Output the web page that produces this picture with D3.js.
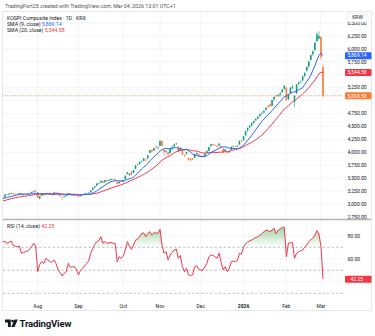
<!DOCTYPE html>
<html>
<head>
<meta charset="utf-8">
<script src="https://cdn.jsdelivr.net/npm/d3@7"></script>
<style>
  html, body { margin: 0; padding: 0; background: #fff; }
  svg text { font-family: Roboto, "Open Sans", sans-serif; }
</style>
</head>
<body>
<div id="chart"></div>
<script>
// KOSPI daily bars, 2025-07-09 .. 2026-03-04
const holidays = ['2025-08-15', '2025-10-03', '2025-10-06', '2025-10-07', '2025-10-08', '2025-10-09',
    '2025-12-25', '2025-12-31', '2026-01-01', '2026-02-16', '2026-02-17', '2026-02-18', '2026-03-02']

// closes of the sessions before the first visible bar (SMA warm-up)
const historyCloses = [2955, 2980, 2995, 3000, 3010, 3020, 3035, 3040, 3060, 3075, 3085,
    3070, 3090, 3115, 3120, 3110, 3095, 3100, 3111]

const opens = [
    3115, 3140, 3185, 3180, 3205, 3210, 3195, 3195, 3195, 3210, 3172, 3195, 3190, 3200, 3210, 3235, 3255,
    3230, 3105, 3160, 3190, 3185, 3200, 3215, 3195, 3200, 3230, 3215, 3175, 3140, 3135, 3150, 3180, 3205, 3180, 3190, 3195,
    3170, 3150, 3180, 3190, 3200, 3215, 3225, 3275, 3320, 3355, 3405, 3415, 3445, 3420, 3465, 3450, 3470, 3480, 3475, 3430, 3400, 3440,
    3430, 3480, 3580, 3560, 3620, 3600, 3680, 3760, 3770, 3820, 3835, 3860, 3880, 3990, 4040, 4030, 4095, 4100,
    4125, 4220, 4050, 4010, 4005, 3985, 4100, 4115, 4165, 4110, 4040, 4040, 3940, 3970, 3890, 3880, 3880, 3890, 3965, 3965,
    3910, 3930, 3930, 3990, 4030, 4120, 4160, 4140, 4130, 4130, 4120, 4070, 4020, 4010, 4000, 4050, 4110, 4120, 4115, 4150, 4230,
    4230, 4330, 4420, 4480, 4520, 4570, 4620, 4650, 4700, 4750, 4770, 4820, 4900, 4930, 4900, 5020, 5100, 5090, 5120, 5160, 5230,
    5250, 5030, 5140, 5250, 4980, 5140, 5320, 5360, 5390, 5480, 5580, 5660, 5790, 5900, 5980, 6150, 6200,
    6230, 5650
]
const highs = [
    3140, 3190, 3200, 3210, 3220, 3215, 3205, 3210, 3215, 3215, 3190, 3200, 3205, 3215, 3235, 3255, 3288,
    3240, 3150, 3200, 3200, 3205, 3215, 3220, 3205, 3230, 3240, 3220, 3180, 3150, 3160, 3175, 3215, 3210, 3195, 3205, 3200,
    3175, 3175, 3195, 3205, 3215, 3225, 3265, 3315, 3345, 3400, 3410, 3450, 3450, 3465, 3470, 3475, 3490, 3490, 3485, 3440, 3440, 3445,
    3460, 3550, 3620, 3600, 3640, 3660, 3750, 3780, 3815, 3840, 3885, 3870, 3945, 4045, 4060, 4085, 4145, 4110,
    4225, 4230, 4060, 4050, 4020, 4080, 4120, 4160, 4180, 4120, 4095, 4045, 3970, 4010, 3900, 3890, 3890, 3965, 3995, 3975,
    3940, 3935, 3985, 4035, 4105, 4160, 4170, 4160, 4140, 4175, 4130, 4075, 4065, 4020, 4030, 4110, 4125, 4130, 4135, 4225, 4240,
    4320, 4420, 4480, 4530, 4580, 4620, 4660, 4700, 4750, 4790, 4810, 4870, 4920, 4950, 5020, 5080, 5110, 5130, 5160, 5230, 5300,
    5260, 5130, 5260, 5300, 5100, 5320, 5370, 5390, 5480, 5550, 5660, 5770, 5890, 5970, 6130, 6320, 6340,
    6250, 5700
]
const lows = [
    3105, 3135, 3165, 3170, 3195, 3180, 3180, 3180, 3185, 3165, 3160, 3180, 3180, 3195, 3200, 3225, 3240,
    3115, 3090, 3155, 3165, 3175, 3190, 3180, 3180, 3195, 3215, 3170, 3145, 3075, 3125, 3145, 3175, 3170, 3170, 3185, 3180,
    3135, 3145, 3165, 3185, 3195, 3205, 3220, 3270, 3305, 3350, 3380, 3405, 3405, 3410, 3435, 3445, 3460, 3465, 3455, 3380, 3395, 3415,
    3420, 3475, 3570, 3545, 3550, 3595, 3675, 3740, 3760, 3800, 3825, 3820, 3875, 3985, 3990, 4025, 4070, 4050,
    4120, 4110, 3930, 3990, 3950, 3980, 4030, 4100, 4140, 4000, 4030, 3950, 3905, 3955, 3840, 3830, 3845, 3885, 3955, 3920,
    3900, 3900, 3925, 3985, 4020, 4110, 4130, 4120, 4090, 4125, 4080, 3990, 4010, 3970, 3985, 4045, 4090, 4100, 4100, 4145, 4200,
    4225, 4320, 4400, 4470, 4500, 4555, 4600, 4640, 4690, 4730, 4755, 4810, 4860, 4870, 4895, 5000, 5060, 5070, 5080, 5150, 5200,
    4990, 5010, 5130, 5220, 4880, 5130, 5300, 5330, 5380, 5460, 5560, 5640, 5770, 5860, 5960, 6130, 6180,
    5780, 5060
]
const closes = [
    3134, 3183, 3176, 3202, 3215, 3187, 3192, 3188, 3211, 3170, 3184, 3190, 3196, 3210, 3231, 3254, 3245,
    3119, 3148, 3198, 3170, 3198, 3210, 3190, 3190, 3224, 3226, 3177, 3152, 3130, 3143, 3169, 3210, 3179, 3187, 3196, 3186,
    3143, 3172, 3184, 3201, 3205, 3220, 3260, 3315, 3344, 3396, 3407, 3450, 3413, 3461, 3445, 3469, 3486, 3472, 3471, 3386, 3431, 3425,
    3456, 3549, 3611, 3585, 3562, 3657, 3748, 3749, 3815, 3824, 3884, 3846, 3942, 4043, 4010, 4081, 4087, 4108,
    4222, 4122, 4004, 4026, 3954, 4073, 4106, 4150, 4171, 4012, 4089, 3954, 3930, 4005, 3853, 3846, 3858, 3961, 3987, 3927,
    3920, 3914, 3977, 4028, 4100, 4155, 4144, 4135, 4110, 4167, 4091, 3999, 4056, 3995, 4021, 4106, 4117, 4109, 4130, 4221, 4214,
    4310, 4410, 4470, 4510, 4565, 4605, 4645, 4685, 4740, 4760, 4800, 4860, 4880, 4885, 5010, 5070, 5085, 5105, 5145, 5210, 5290,
    5010, 5120, 5250, 5275, 5090, 5310, 5350, 5370, 5470, 5534.34, 5650, 5760, 5880, 5950, 6120, 6280, 6248.68,
    5840, 5093.58
]
const rsiValues = [
    75, 74.9, 73.5, 74.3, 75.5, 71.5, 71.1, 70.5, 71.1, 64.8, 65.5, 66.2, 66.8, 68.2, 70.5, 73.5, 71.1,
    48.8, 55, 57.5, 56, 60.4, 59, 57.5, 57, 59, 56, 50.3, 48, 45, 47.5, 48.8, 56, 52.6, 53, 53.1, 51,
    45.9, 50, 51.7, 54, 56, 58, 64.8, 69, 72.5, 74.9, 76, 79.2, 73.5, 74.9, 73.5, 73.8, 74.2, 73.5, 73.5, 57.5, 61.8, 60.4,
    62.5, 67.7, 74.9, 71, 68.2, 72, 76.3, 77, 79.2, 82.2, 82.5, 79.2, 82, 83.6, 80.7, 82.7, 82.5, 82.2,
    85.6, 72, 64.8, 66.2, 59, 63.3, 65.5, 67.7, 68.5, 60.4, 63, 53.1, 48.8, 51.7, 45.9, 45.5, 45.9, 53.1, 54, 50.9,
    50.3, 50, 53, 56, 61.8, 63.3, 63, 61.8, 60.5, 64.8, 57, 50.3, 53.1, 48.8, 51.7, 57.5, 58, 57.5, 58.5, 64.8, 64,
    70.5, 73, 74.9, 75.5, 76.3, 77.5, 78.5, 79.2, 80.5, 82.2, 83.5, 85, 84.5, 83.6, 85, 86.5, 81.6, 85, 86, 87.4, 87.4,
    61.8, 73.5, 74, 74, 60.4, 64.8, 66.2, 67, 67.7, 70, 72, 74.9, 76.5, 77.8, 80.7, 84.4, 81.6,
    70.5, 42.25
]

const priceTicks = [2750, 3000, 3250, 3500, 3750, 4000, 4250, 4500, 4750, 5000, 5250, 5500, 5750, 6000, 6250, 6500]
const rsiGrid = [40, 60, 80]
const rsiBands = [70, 50, 30]

const upColor = '#089981'
const downColor = '#ff7a33'
const sma9Color = '#2962ff'
const sma20Color = '#f23645'
const rsiColor = '#f23645'

////////////////////////////////////
/////////////// wrangle ////////////
////////////////////////////////////
const dayFmt = d3.utcFormat('%Y-%m-%d')
const sessions = d3.utcDays(new Date(Date.UTC(2025, 6, 9)), new Date(Date.UTC(2026, 2, 5)))
    .filter(d => d.getUTCDay() % 6 !== 0 && !holidays.includes(dayFmt(d)))

const bars = sessions.map((date, i) => ({
    date, i, open: opens[i], high: highs[i], low: lows[i], close: closes[i], rsi: rsiValues[i]
}))

const allCloses = historyCloses.concat(closes)
const offset = historyCloses.length
const sma = n => closes.map((c, i) => d3.mean(allCloses.slice(i + offset - n + 1, i + offset + 1)))
const sma9 = sma(9)
const sma20 = sma(20)

const monthStarts = bars.filter((d, i) => i > 0 && d.date.getUTCMonth() !== bars[i - 1].date.getUTCMonth())

const fmt = d3.format(',.2f')
const last = bars[bars.length - 1]

////////////////////////////////////
//////////////// layout ////////////
////////////////////////////////////
const width = 375, height = 336
const plot = { left: 3, right: 343 }
const pricePane = { top: 12, bottom: 219 }
const rsiPane = { top: 220, bottom: 300 }
const tagH = 7

const svg = d3.select('#chart').append('svg')
    .attr('width', width)
    .attr('height', height)

svg.append('rect').attr('width', width).attr('height', height).attr('fill', '#fff')

const xScale = d3.scaleLinear()
    .domain([-1.5, 166.8])
    .range([0, plot.right])

const yScale = d3.scaleLinear()
    .domain([2750, 6250])
    .range([216.9, 36])

const rScale = d3.scaleLinear()
    .domain([30, 70])
    .range([293.3, 247.3])

const defs = svg.append('defs')
defs.append('clipPath').attr('id', 'clip-price')
    .append('rect').attr('x', plot.left).attr('y', pricePane.top)
    .attr('width', plot.right - plot.left).attr('height', pricePane.bottom - pricePane.top)
defs.append('clipPath').attr('id', 'clip-rsi')
    .append('rect').attr('x', plot.left).attr('y', rsiPane.top)
    .attr('width', plot.right - plot.left).attr('height', rsiPane.bottom - rsiPane.top)
defs.append('clipPath').attr('id', 'clip-ob')
    .append('rect').attr('x', plot.left).attr('y', rsiPane.top)
    .attr('width', plot.right - plot.left).attr('height', rScale(70) - rsiPane.top)

const grad = defs.append('linearGradient').attr('id', 'ob-grad')
    .attr('gradientUnits', 'userSpaceOnUse')
    .attr('x1', 0).attr('x2', 0).attr('y1', rScale(100)).attr('y2', rScale(70))
grad.append('stop').attr('offset', 0).attr('stop-color', '#4caf50').attr('stop-opacity', 0.9)
grad.append('stop').attr('offset', 1).attr('stop-color', '#4caf50').attr('stop-opacity', 0)

// header + frame
svg.append('text')
    .attr('x', 5).attr('y', 7.6)
    .attr('font-size', 5.3).attr('fill', '#50535e')
    .text('TradingPort25 created with TradingView.com, Mar 04, 2026 13:01 UTC+1')

svg.append('rect')
    .attr('x', 2.5).attr('y', 11.5).attr('width', 369).attr('height', 299)
    .attr('fill', 'none').attr('stroke', '#e0e3eb').attr('stroke-width', 0.8)

////////////////////////////////////
//////////////// grid //////////////
////////////////////////////////////
const grid = svg.append('g').attr('stroke', '#f0f3fa').attr('stroke-width', 0.8)

grid.selectAll('.hp')
    .data(priceTicks.filter(v => yScale(v) > pricePane.top && yScale(v) < pricePane.bottom))
    .join('line')
    .attr('x1', plot.left).attr('x2', plot.right)
    .attr('y1', d => yScale(d)).attr('y2', d => yScale(d))

grid.selectAll('.hr')
    .data(rsiGrid)
    .join('line')
    .attr('x1', plot.left).attr('x2', plot.right)
    .attr('y1', d => rScale(d)).attr('y2', d => rScale(d))

grid.selectAll('.v1')
    .data(monthStarts)
    .join('line')
    .attr('x1', d => xScale(d.i)).attr('x2', d => xScale(d.i))
    .attr('y1', pricePane.top).attr('y2', pricePane.bottom)

grid.selectAll('.v2')
    .data(monthStarts)
    .join('line')
    .attr('x1', d => xScale(d.i)).attr('x2', d => xScale(d.i))
    .attr('y1', rsiPane.top).attr('y2', rsiPane.bottom)

////////////////////////////////////
//////////////// price /////////////
////////////////////////////////////
const price = svg.append('g').attr('clip-path', 'url(#clip-price)')

// last price line
price.append('line')
    .attr('x1', plot.left).attr('x2', plot.right)
    .attr('y1', yScale(last.close)).attr('y2', yScale(last.close))
    .attr('stroke', downColor).attr('stroke-width', 0.7)
    .attr('stroke-dasharray', '1,1')

const candle = price.selectAll('.candle')
    .data(bars)
    .join('g')
    .attr('class', 'candle')
    .attr('fill', d => d.close >= d.open ? upColor : downColor)
    .attr('stroke', d => d.close >= d.open ? upColor : downColor)

candle.append('line')
    .attr('x1', d => xScale(d.i)).attr('x2', d => xScale(d.i))
    .attr('y1', d => yScale(d.high)).attr('y2', d => yScale(d.low))
    .attr('stroke-width', 0.6)

candle.append('rect')
    .attr('stroke', 'none')
    .attr('x', d => xScale(d.i) - 0.75)
    .attr('width', 1.5)
    .attr('y', d => yScale(Math.max(d.open, d.close)))
    .attr('height', d => Math.max(0.6, Math.abs(yScale(d.open) - yScale(d.close))))

const smaLine = d3.line().x((d, i) => xScale(i)).y(d => yScale(d))

price.append('path').datum(sma20)
    .attr('d', smaLine).attr('fill', 'none')
    .attr('stroke', sma20Color).attr('stroke-width', 1)

price.append('path').datum(sma9)
    .attr('d', smaLine).attr('fill', 'none')
    .attr('stroke', sma9Color).attr('stroke-width', 1)

// value tags on the scale
const tags = [
    { value: sma9[sma9.length - 1], color: sma9Color },
    { value: sma20[sma20.length - 1], color: sma20Color },
    { value: last.close, color: downColor }
]

// scale labels hidden behind a tag are skipped
const clear = (y, tagYs) => tagYs.every(t => Math.abs(t - y) >= 6)

const priceAxis = svg.append('g')
    .attr('font-size', 5).attr('fill', '#131722')

priceAxis.selectAll('text')
    .data(priceTicks.filter(v => clear(yScale(v), tags.map(t => yScale(t.value)))))
    .join('text')
    .attr('x', 347.5)
    .attr('y', d => yScale(d) + 1.8)
    .text(d => fmt(d))

const tag = svg.selectAll('.tag')
    .data(tags)
    .join('g')
    .attr('class', 'tag')
    .attr('transform', d => `translate(345,${yScale(d.value)})`)

tag.append('rect')
    .attr('x', 0).attr('y', -tagH / 2).attr('width', 26.5).attr('height', tagH).attr('rx', 1)
    .attr('fill', d => d.color)

tag.append('text')
    .attr('x', 2.5).attr('y', 1.8)
    .attr('font-size', 5).attr('fill', '#fff')
    .text(d => fmt(d.value))

// currency box
const krw = svg.append('g').attr('transform', 'translate(347,13)')
krw.append('rect')
    .attr('width', 21).attr('height', 9).attr('rx', 2)
    .attr('fill', '#fff').attr('stroke', '#e0e3eb').attr('stroke-width', 0.7)
krw.append('text')
    .attr('x', 10.5).attr('y', 6.2).attr('text-anchor', 'middle')
    .attr('font-size', 5).attr('fill', '#131722')
    .text('KRW')

// legend
const legend = svg.append('g').attr('font-size', 5.2).attr('fill', '#131722')

legend.append('text').attr('x', 7).attr('y', 19.5)
    .text('KOSPI Composite Index · 1D · KRX')

const l9 = legend.append('text').attr('x', 7).attr('y', 25.7)
l9.append('tspan').text('SMA (9, close) ')
l9.append('tspan').attr('fill', sma9Color).text(fmt(sma9[sma9.length - 1]))

const l20 = legend.append('text').attr('x', 7).attr('y', 31.9)
l20.append('tspan').text('SMA (20, close) ')
l20.append('tspan').attr('fill', sma20Color).text(fmt(sma20[sma20.length - 1]))

// pane separator
svg.append('line')
    .attr('x1', plot.left).attr('x2', 371)
    .attr('y1', 219.5).attr('y2', 219.5)
    .attr('stroke', '#b2b5be').attr('stroke-width', 1.4)

////////////////////////////////////
///////////////// rsi //////////////
////////////////////////////////////
const rsi = svg.append('g').attr('clip-path', 'url(#clip-rsi)')

rsi.selectAll('.band')
    .data(rsiBands)
    .join('line')
    .attr('x1', plot.left).attr('x2', plot.right)
    .attr('y1', d => rScale(d)).attr('y2', d => rScale(d))
    .attr('stroke', '#9598a1').attr('stroke-width', 0.6)
    .attr('stroke-dasharray', '2.5,2')

rsi.append('g').attr('clip-path', 'url(#clip-ob)')
    .append('path').datum(bars)
    .attr('d', d3.area().x(d => xScale(d.i)).y0(rScale(70)).y1(d => rScale(d.rsi)))
    .attr('fill', 'url(#ob-grad)')

rsi.append('path').datum(bars)
    .attr('d', d3.line().x(d => xScale(d.i)).y(d => rScale(d.rsi)))
    .attr('fill', 'none')
    .attr('stroke', rsiColor).attr('stroke-width', 1)

const rsiAxis = svg.append('g').attr('font-size', 5).attr('fill', '#131722')
rsiAxis.selectAll('text')
    .data(rsiGrid.filter(v => clear(rScale(v), [rScale(last.rsi)])))
    .join('text')
    .attr('x', 347.5)
    .attr('y', d => rScale(d) + 1.8)
    .text(d => fmt(d))

const rsiTag = svg.append('g').attr('transform', `translate(345,${rScale(last.rsi)})`)
rsiTag.append('rect')
    .attr('x', 0).attr('y', -tagH / 2).attr('width', 26.5).attr('height', tagH).attr('rx', 1)
    .attr('fill', rsiColor)
rsiTag.append('text')
    .attr('x', 5.5).attr('y', 1.8)
    .attr('font-size', 5).attr('fill', '#fff')
    .text(fmt(last.rsi))

const rsiLegend = svg.append('text').attr('x', 7).attr('y', 227.5)
    .attr('font-size', 5.2).attr('fill', '#131722')
rsiLegend.append('tspan').text('RSI (14, close) ')
rsiLegend.append('tspan').attr('fill', rsiColor).text(fmt(last.rsi))

////////////////////////////////////
///////////////// time /////////////
////////////////////////////////////
svg.append('g')
    .attr('font-size', 5).attr('fill', '#131722')
    .selectAll('text')
    .data(monthStarts)
    .join('text')
    .attr('x', d => xScale(d.i))
    .attr('y', 307.5)
    .attr('text-anchor', 'middle')
    .attr('font-weight', d => d.date.getUTCMonth() === 0 ? 'bold' : 'normal')
    .text(d => d.date.getUTCMonth() === 0 ? d3.utcFormat('%Y')(d.date) : d3.utcFormat('%b')(d.date))

// logo
const logo = svg.append('g').attr('fill', '#131722')
logo.append('path').attr('d', 'M5,319.6 h5.8 v7.4 h-2.9 v-4.6 h-2.9 z')
logo.append('circle').attr('cx', 12.6).attr('cy', 321.1).attr('r', 1.4)
logo.append('path').attr('d', 'M14.6,319.6 h3.2 l-3.3,7.4 h-3.2 z')
logo.append('text')
    .attr('x', 19.5).attr('y', 327)
    .attr('font-size', 9.6).attr('font-weight', 'bold')
    .attr('letter-spacing', -0.2)
    .text('TradingView')
</script>
</body>
</html>
